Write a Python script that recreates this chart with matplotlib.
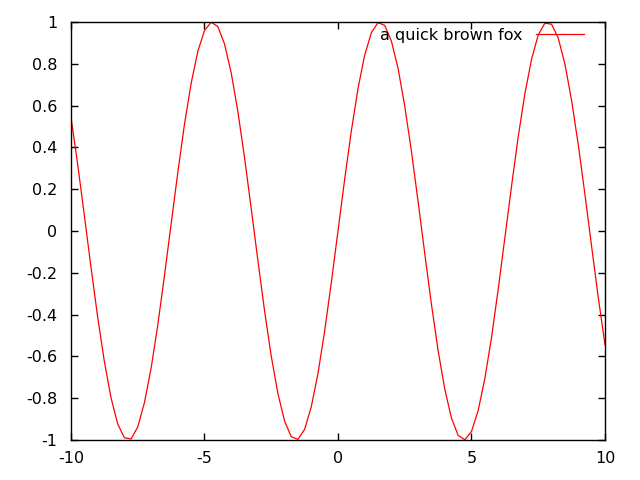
import matplotlib
matplotlib.use("Agg")
import matplotlib.pyplot as plt

# valores (passo 0.25 em x)
x_vals = [i * 0.25 for i in range(-40, 41)]
y_pos = [0.0, 0.247, 0.479, 0.682, 0.841, 0.949, 0.997, 0.984, 0.909, 0.778,
         0.598, 0.382, 0.141, -0.108, -0.351, -0.572, -0.757, -0.895, -0.978,
         -0.999, -0.959, -0.859, -0.706, -0.510, -0.279, -0.033, 0.215, 0.451,
         0.657, 0.822, 0.938, 0.995, 0.989, 0.923, 0.798, 0.624, 0.412, 0.174,
         -0.075, -0.320, -0.544]
y_vals = [-v for v in y_pos[:0:-1]] + y_pos

x_ticks = [-10, -5, 0, 5, 10]
y_ticks = [-1, -0.8, -0.6, -0.4, -0.2, 0, 0.2, 0.4, 0.6, 0.8, 1]
y_labels = ["-1", "-0.8", "-0.6", "-0.4", "-0.2", "0", "0.2", "0.4", "0.6", "0.8", "1"]

plt.rcParams["font.family"] = "DejaVu Sans"
fig = plt.figure(figsize=(6.4, 4.8), dpi=100)
ax = fig.add_axes([0.1109, 0.0833, 0.8344, 0.8709])

ax.plot(x_vals, y_vals, color="red", lw=0.9, label="a quick brown fox")
ax.set_xlim(-10, 10)
ax.set_ylim(-1, 1)
ax.set_xticks(x_ticks)
ax.set_xticklabels([str(t) for t in x_ticks])
ax.set_yticks(y_ticks)
ax.set_yticklabels(y_labels)
ax.tick_params(direction="in", length=5, width=1, top=True, right=True,
               labelsize=11.5, pad=8, colors="black")
ax.tick_params(axis="y", pad=10)
for s in ax.spines.values():
    s.set_linewidth(1)

ax.legend(loc="upper right", bbox_to_anchor=(0.9607, 0.9856), frameon=False,
          fontsize=11.5, handlelength=3.0, markerfirst=False,
          borderaxespad=0, borderpad=0, handletextpad=0.87)

fig.savefig("out.png", dpi=100)
